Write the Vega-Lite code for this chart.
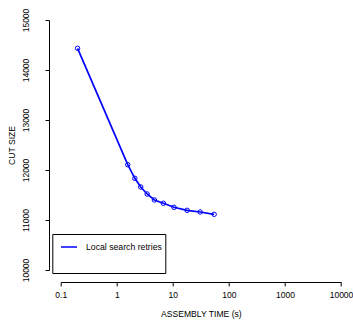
{
  "$schema": "https://vega.github.io/schema/vega-lite/v6.json",
  "width": 280.3,
  "height": 250,
  "autosize": {"type": "none"},
  "padding": {"left": 60.7, "top": 20, "right": 12, "bottom": 52},
  "background": "white",
  "config": {
    "view": {"stroke": null},
    "font": "Liberation Sans",
    "axis": {
      "grid": false,
      "domainColor": "black",
      "domainWidth": 1,
      "tickColor": "black",
      "tickWidth": 1,
      "tickSize": 4,
      "labelFont": "Liberation Sans",
      "labelFontSize": 8.5,
      "labelColor": "black",
      "titleFont": "Liberation Sans",
      "titleFontSize": 8.6,
      "titleFontWeight": "normal",
      "titleColor": "black",
      "labelOverlap": false,
      "labelFlush": false
    }
  },
  "data": {
    "values": [
      {"time": 0.2, "cut": 14434, "series": "Local search retries"},
      {"time": 1.57, "cut": 12106, "series": "Local search retries"},
      {"time": 2.1, "cut": 11834, "series": "Local search retries"},
      {"time": 2.68, "cut": 11660, "series": "Local search retries"},
      {"time": 3.48, "cut": 11520, "series": "Local search retries"},
      {"time": 4.69, "cut": 11400, "series": "Local search retries"},
      {"time": 6.79, "cut": 11334, "series": "Local search retries"},
      {"time": 10.5, "cut": 11254, "series": "Local search retries"},
      {"time": 18.0, "cut": 11194, "series": "Local search retries"},
      {"time": 30.7, "cut": 11160, "series": "Local search retries"},
      {"time": 54.6, "cut": 11114, "series": "Local search retries"}
    ]
  },
  "encoding": {
    "x": {
      "field": "time",
      "type": "quantitative",
      "scale": {"type": "log", "domain": [0.1, 10000], "nice": false},
      "axis": {
        "title": "ASSEMBLY TIME (s)",
        "values": [0.1, 1, 10, 100, 1000, 10000],
        "labelExpr": "'' + datum.value",
        "offset": 12,
        "labelPadding": 4,
        "titlePadding": 11
      }
    },
    "y": {
      "field": "cut",
      "type": "quantitative",
      "scale": {"domain": [10000, 15000], "nice": false, "zero": false},
      "axis": {
        "title": "CUT SIZE",
        "values": [10000, 11000, 12000, 13000, 14000, 15000],
        "format": "d",
        "labelAngle": -90,
        "labelAlign": "center",
        "labelBaseline": "bottom",
        "labelPadding": 14.5,
        "offset": 11.7,
        "titlePadding": 5
      }
    },
    "color": {
      "field": "series",
      "type": "nominal",
      "scale": {"domain": ["Local search retries"], "range": ["#0000ff"]}
    }
  },
  "layer": [
    {
      "mark": {"type": "line", "strokeWidth": 1.7},
      "encoding": {
        "color": {
          "field": "series",
          "type": "nominal",
          "scale": {"domain": ["Local search retries"], "range": ["#0000ff"]},
          "legend": {
            "title": " ",
            "titleOrient": "bottom",
            "titleFontSize": 10,
            "titlePadding": 3,
            "orient": "none",
            "legendX": -8.4,
            "legendY": 214,
            "padding": 3,
            "symbolOffset": 4.7,
            "strokeColor": "black",
            "fillColor": "white",
            "symbolType": "stroke",
            "symbolSize": 256,
            "symbolStrokeWidth": 1.7,
            "clipHeight": 20,
            "labelFont": "Liberation Sans",
            "labelFontSize": 8.7,
            "labelColor": "black",
            "labelOffset": 8
          }
        }
      }
    },
    {
      "mark": {"type": "point", "filled": false, "size": 20, "strokeWidth": 1, "opacity": 1},
      "encoding": {
        "color": {"field": "series", "type": "nominal", "legend": null}
      }
    }
  ]
}
